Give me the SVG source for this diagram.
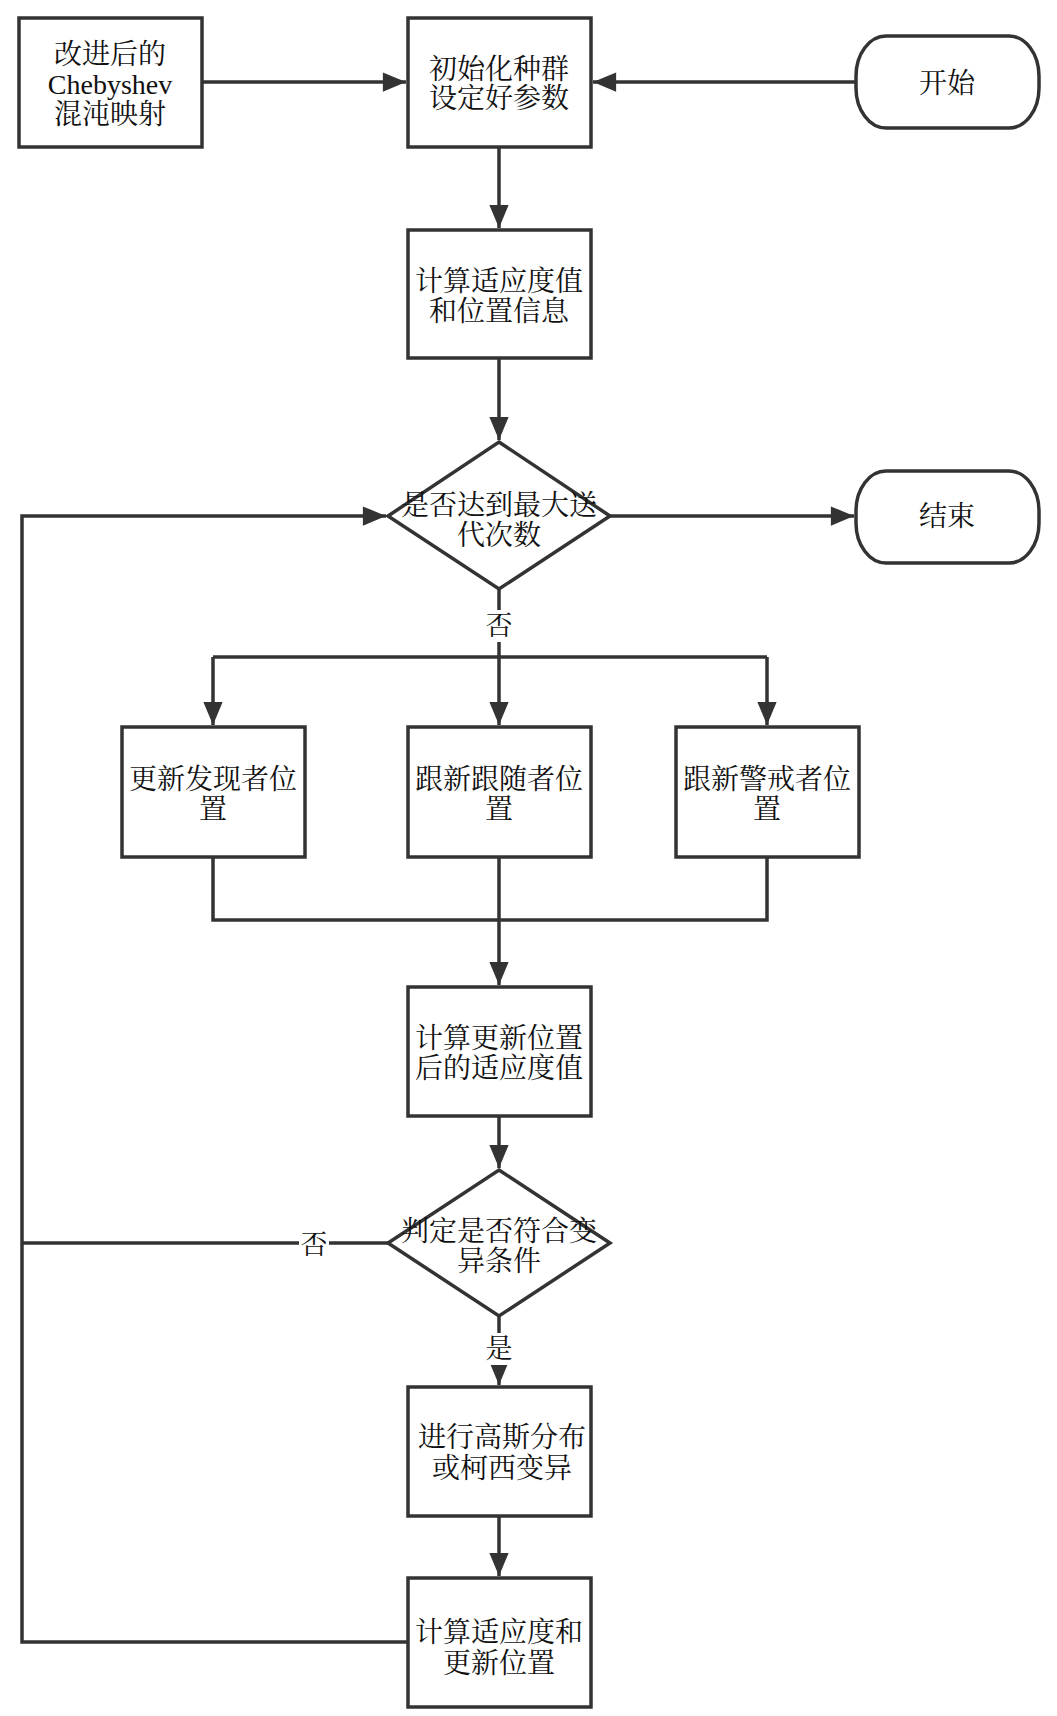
<svg xmlns="http://www.w3.org/2000/svg" width="1057" height="1716" viewBox="0 0 1057 1716">
<defs>
<style>
.box{fill:#fff;stroke:#333;stroke-width:3.5}
.ln{fill:none;stroke:#333;stroke-width:3.5}
.t{font-family:"Liberation Serif","Noto Serif CJK SC","Noto Sans CJK SC",serif;font-size:28px;fill:#111;text-anchor:middle;dominant-baseline:central}
.lbl{font-family:"Liberation Serif","Noto Serif CJK SC","Noto Sans CJK SC",serif;font-size:27px;fill:#111;text-anchor:middle;dominant-baseline:central}
</style>
<marker id="ah" viewBox="0 0 12 10" refX="12" refY="5" markerWidth="7" markerHeight="5.5" markerUnits="strokeWidth" orient="auto">
<path d="M0,0 L12,5 L0,10 z" fill="#333"/>
</marker>
</defs>
<rect width="1057" height="1716" fill="#fff"/>
<g id="connectors">
<line class="ln" x1="203" y1="82" x2="406" y2="82" marker-end="url(#ah)"/>
<line class="ln" x1="856" y1="82" x2="593" y2="82" marker-end="url(#ah)"/>
<line class="ln" x1="499" y1="147" x2="499" y2="228" marker-end="url(#ah)"/>
<line class="ln" x1="499" y1="358" x2="499" y2="440" marker-end="url(#ah)"/>
<line class="ln" x1="610" y1="516" x2="854" y2="516" marker-end="url(#ah)"/>
<line class="ln" x1="499" y1="589" x2="499" y2="657"/>
<line class="ln" x1="213" y1="657" x2="767" y2="657"/>
<line class="ln" x1="213" y1="657" x2="213" y2="725" marker-end="url(#ah)"/>
<line class="ln" x1="499" y1="657" x2="499" y2="725" marker-end="url(#ah)"/>
<line class="ln" x1="767" y1="657" x2="767" y2="725" marker-end="url(#ah)"/>
<polyline class="ln" points="213,857 213,920 767,920 767,857"/>
<line class="ln" x1="499" y1="857" x2="499" y2="985" marker-end="url(#ah)"/>
<line class="ln" x1="499" y1="1116" x2="499" y2="1168" marker-end="url(#ah)"/>
<line class="ln" x1="499" y1="1316" x2="499" y2="1385" marker-end="url(#ah)"/>
<line class="ln" x1="499" y1="1516" x2="499" y2="1576" marker-end="url(#ah)"/>
<line class="ln" x1="388" y1="1243" x2="22" y2="1243"/>
<polyline class="ln" points="408,1642 22,1642 22,516 386,516" marker-end="url(#ah)"/>
<rect x="484" y="610" width="30" height="32" fill="#fff"/>
<text class="lbl" x="499" y="626">否</text>
<rect x="299" y="1228" width="30" height="32" fill="#fff"/>
<text class="lbl" x="314" y="1245">否</text>
<rect x="484" y="1333" width="30" height="32" fill="#fff"/>
<text class="lbl" x="499" y="1349">是</text>
</g>
<g id="n_cheb">
<rect class="box" x="19" y="18" width="183" height="129"/>
<text class="t" x="110" y="54">改进后的</text>
<text class="t" x="110" y="84">Chebyshev</text>
<text class="t" x="110" y="114">混沌映射</text>
</g>
<g id="n_init">
<rect class="box" x="408" y="18" width="183" height="129"/>
<text class="t" x="499" y="69">初始化种群</text>
<text class="t" x="499" y="98">设定好参数</text>
</g>
<g id="n_start">
<rect class="box" x="856" y="36" width="183" height="92" rx="30" ry="40"/>
<text class="t" x="947" y="83">开始</text>
</g>
<g id="n_fit">
<rect class="box" x="408" y="230" width="183" height="128"/>
<text class="t" x="499" y="281">计算适应度值</text>
<text class="t" x="499" y="311">和位置信息</text>
</g>
<g id="n_dec1">
<polygon class="box" points="499,442 610,516 499,589 388,516"/>
<text class="t" x="499" y="505">是否达到最大送</text>
<text class="t" x="499" y="535">代次数</text>
</g>
<g id="n_end">
<rect class="box" x="856" y="471" width="183" height="92" rx="30" ry="40"/>
<text class="t" x="947" y="516">结束</text>
</g>
<g id="n_a">
<rect class="box" x="122" y="727" width="183" height="130"/>
<text class="t" x="213" y="779">更新发现者位</text>
<text class="t" x="213" y="809">置</text>
</g>
<g id="n_b">
<rect class="box" x="408" y="727" width="183" height="130"/>
<text class="t" x="499" y="779">跟新跟随者位</text>
<text class="t" x="499" y="809">置</text>
</g>
<g id="n_c">
<rect class="box" x="676" y="727" width="183" height="130"/>
<text class="t" x="767" y="779">跟新警戒者位</text>
<text class="t" x="767" y="809">置</text>
</g>
<g id="n_fit2">
<rect class="box" x="408" y="987" width="183" height="129"/>
<text class="t" x="499" y="1038">计算更新位置</text>
<text class="t" x="499" y="1068">后的适应度值</text>
</g>
<g id="n_dec2">
<polygon class="box" points="499,1170 610,1243 499,1316 388,1243"/>
<text class="t" x="499" y="1231">判定是否符合变</text>
<text class="t" x="499" y="1261">异条件</text>
</g>
<g id="n_mut">
<rect class="box" x="408" y="1387" width="183" height="129"/>
<text class="t" x="502" y="1437">进行高斯分布</text>
<text class="t" x="502" y="1468">或柯西变异</text>
</g>
<g id="n_upd">
<rect class="box" x="408" y="1578" width="183" height="129"/>
<text class="t" x="499" y="1632">计算适应度和</text>
<text class="t" x="499" y="1663">更新位置</text>
</g>
</svg>
